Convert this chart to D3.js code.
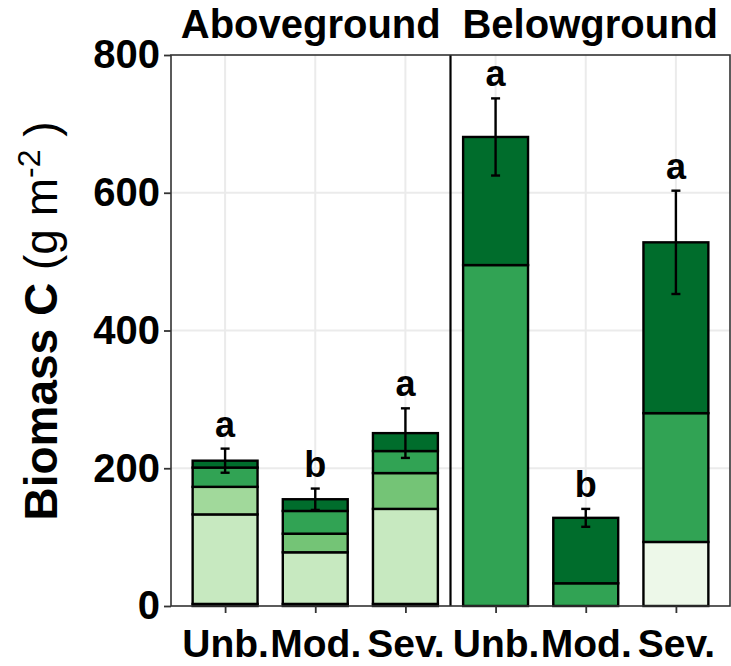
<!DOCTYPE html>
<html>
<head>
<meta charset="utf-8">
<script src="https://cdn.jsdelivr.net/npm/d3@7"></script>
<style>
  html, body { margin: 0; padding: 0; background: #fff; }
  svg { display: block; font-family: "Liberation Sans", Arial, Helvetica, sans-serif; }
</style>
</head>
<body>
<svg id="chart" width="731" height="666"></svg>
<script>
// Biomass carbon by disturbance severity, split into above- and belowground pools
const barIds = ["AG-Unb", "AG-Mod", "AG-Sev", "BG-Unb", "BG-Mod", "BG-Sev"];
const barLabels = ["Unb.", "Mod.", "Sev.", "Unb.", "Mod.", "Sev."];
const compartments = ["Aboveground", "Belowground"];

// stacked pool values (g C m-2), bottom layer first
const pool1 = [3, 3, 3, 0, 0, 93];
const pool2 = [130, 75, 138, 0, 0, 0];
const pool3 = [40, 0, 0, 0, 0, 0];
const pool4 = [0, 27, 52, 0, 0, 0];
const pool5 = [28, 33, 32, 495, 33, 187];
const pool6 = [10, 17, 26, 186, 95, 248];
const poolColors = ["#edf8e9", "#c7e9c0", "#a1d99b", "#74c476", "#31a354", "#006d2c"];

// standard error of total biomass and significance letters
const totalSE = [17.5, 15.5, 36, 56, 13, 75];
const letters = ["a", "b", "a", "a", "b", "a"];

const yTicks = [0, 200, 400, 600, 800];

const pools = [pool1, pool2, pool3, pool4, pool5, pool6];

const svg = d3.select("#chart");
const panel = { left: 171, right: 730, top: 55, bottom: 606 };

const x = d3.scalePoint().domain(barIds).range([panel.left, panel.right]).padding(0.6);
const step = x.step();
const barW = step * 0.72;
const y = d3.scaleLinear().domain([0, 800]).range([panel.bottom, panel.top]);

// grid
const grid = svg.append("g");
grid.selectAll("line.h").data(yTicks.filter(d => d > 0 && d < 800)).join("line")
  .attr("x1", panel.left).attr("x2", panel.right)
  .attr("y1", d => y(d)).attr("y2", d => y(d))
  .attr("stroke", "#ebebeb").attr("stroke-width", 2);
grid.selectAll("line.v").data(barIds).join("line")
  .attr("x1", d => x(d)).attr("x2", d => x(d))
  .attr("y1", panel.top).attr("y2", panel.bottom)
  .attr("stroke", "#ebebeb").attr("stroke-width", 2);

// stacked bars
const stackRows = barIds.map((id, i) => {
  const row = { id };
  pools.forEach((p, k) => row["p" + k] = p[i]);
  return row;
});
const keys = pools.map((p, k) => "p" + k);
const series = d3.stack().keys(keys)(stackRows);

svg.append("g").selectAll("g").data(series).join("g")
  .attr("fill", (d, k) => poolColors[k])
  .selectAll("rect").data(d => d.filter(s => s[1] - s[0] > 0)).join("rect")
  .attr("x", d => x(d.data.id) - barW / 2)
  .attr("width", barW)
  .attr("y", d => y(d[1]))
  .attr("height", d => y(d[0]) - y(d[1]))
  .attr("stroke", "#000").attr("stroke-width", 2.4);

// separator between compartments
const sepX = (x(barIds[2]) + x(barIds[3])) / 2;
svg.append("line")
  .attr("x1", sepX).attr("x2", sepX)
  .attr("y1", panel.top).attr("y2", panel.bottom)
  .attr("stroke", "#000").attr("stroke-width", 2.2);

// error bars
const totals = barIds.map((id, i) => d3.sum(pools, p => p[i]));
const eb = svg.append("g").attr("stroke", "#000").attr("stroke-width", 2.4);
const capW = step * 0.1;
barIds.forEach((id, i) => {
  const cx = x(id), hi = totals[i] + totalSE[i], lo = totals[i] - totalSE[i];
  eb.append("line").attr("x1", cx).attr("x2", cx).attr("y1", y(hi)).attr("y2", y(lo));
  eb.append("line").attr("x1", cx - capW / 2).attr("x2", cx + capW / 2).attr("y1", y(hi)).attr("y2", y(hi));
  eb.append("line").attr("x1", cx - capW / 2).attr("x2", cx + capW / 2).attr("y1", y(lo)).attr("y2", y(lo));
});

// significance letters
svg.append("g").selectAll("text").data(barIds).join("text")
  .attr("x", d => x(d))
  .attr("y", (d, i) => y(totals[i] + totalSE[i]) - 12)
  .attr("text-anchor", "middle")
  .attr("font-size", 36).attr("font-weight", "bold")
  .text((d, i) => letters[i]);

// panel border
svg.append("rect")
  .attr("x", panel.left).attr("y", panel.top)
  .attr("width", panel.right - panel.left).attr("height", panel.bottom - panel.top)
  .attr("fill", "none").attr("stroke", "#333").attr("stroke-width", 1.6);

// y axis
const yAxis = svg.append("g").attr("transform", `translate(${panel.left},0)`)
  .call(d3.axisLeft(y).tickValues(yTicks).tickSize(7).tickPadding(4));
yAxis.select(".domain").remove();
yAxis.selectAll(".tick line").attr("stroke", "#333").attr("stroke-width", 1.8);
yAxis.selectAll(".tick text").attr("font-size", 40).attr("font-weight", "bold")
  .attr("fill", "#000").attr("font-family", "Liberation Sans, Arial, sans-serif");

// x axis
const xAxis = svg.append("g").attr("transform", `translate(0,${panel.bottom})`)
  .call(d3.axisBottom(x).tickSize(7).tickPadding(16).tickFormat((d, i) => barLabels[i]));
xAxis.select(".domain").remove();
xAxis.selectAll(".tick line").attr("stroke", "#333").attr("stroke-width", 1.8);
xAxis.selectAll(".tick text").attr("font-size", 39).attr("font-weight", "bold")
  .attr("fill", "#000").attr("font-family", "Liberation Sans, Arial, sans-serif");

// compartment headings, centred over each half of the panel
const halfCentres = [(panel.left + sepX) / 2, (sepX + panel.right) / 2];
svg.append("g").selectAll("text").data(compartments).join("text")
  .attr("x", (d, i) => halfCentres[i])
  .attr("y", 38)
  .attr("text-anchor", "middle")
  .attr("font-size", 40).attr("font-weight", "bold")
  .text(d => d);

// y axis title
const yt = svg.append("text")
  .attr("transform", "translate(57,321) rotate(-90)")
  .attr("text-anchor", "middle")
  .attr("font-size", 46);
yt.append("tspan").attr("font-weight", "bold").text("Biomass C");
yt.append("tspan").text(" (g m");
yt.append("tspan").attr("font-size", 32).attr("dy", -17).text("-2");
yt.append("tspan").attr("dy", 17).text(" )");
</script>
</body>
</html>
